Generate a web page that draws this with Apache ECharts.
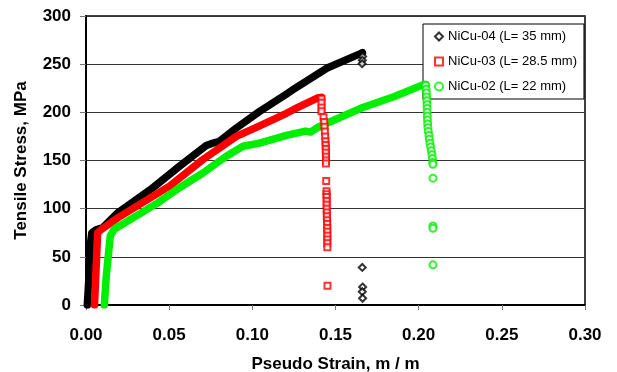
<!DOCTYPE html>
<html><head><meta charset="utf-8">
<script src="https://cdn.jsdelivr.net/npm/echarts@6/dist/echarts.min.js"></script>
<style>html,body{margin:0;padding:0;background:#fff}#c{width:617px;height:372px}</style>
</head><body><div id="c"></div>
<script>
const seriesNames = ['NiCu-04 (L= 35 mm)', 'NiCu-03 (L= 28.5 mm)', 'NiCu-02 (L= 22 mm)'];
const xTicks = [0, 0.05, 0.10, 0.15, 0.20, 0.25, 0.30];
const yTicks = [0, 50, 100, 150, 200, 250, 300];

// main curves [strain, stress]
const nicu04Curve = [[0.0008,0],[0.0018,30],[0.0028,65],[0.0035,75],[0.0060,78],[0.0099,80],[0.0193,96],[0.0402,121.7],[0.0562,144],[0.0723,165.5],[0.0753,167.5],[0.0803,170],[0.0904,183.8],[0.1044,201],[0.1205,219],[0.1249,224],[0.1450,246],[0.1650,261],[0.1662,262]];
const nicu03Curve = [[0.0051,0],[0.0060,35],[0.0070,75],[0.0094,78.6],[0.0193,90.7],[0.0502,123.4],[0.0703,151],[0.0904,175],[0.1044,186],[0.1205,199],[0.1249,203],[0.1390,214.8],[0.1415,215.5]];
const nicu02Curve = [[0.0110,0],[0.0122,30],[0.0146,72],[0.0170,78.6],[0.0431,106],[0.0562,121.7],[0.0703,137],[0.0843,154.5],[0.0944,164.8],[0.1044,168],[0.1205,176],[0.1320,180.5],[0.1350,179.5],[0.1400,185],[0.1664,205],[0.1854,216.5],[0.2032,229],[0.2043,229]];

// fracture points [strain, stress]
const nicu04Tail = [[0.1663,258],[0.1661,254],[0.1660,250.5],[0.1661,39],[0.1663,18.6],[0.1661,13.8],[0.1663,7]];
const nicu03Tail = [[0.1416,214],[0.1416,210],[0.1416,205],[0.1416,201],[0.1428,195],[0.1432,190],[0.1434,185],[0.1436,180],[0.1438,175],[0.1440,170],[0.1441,166],[0.1442,162],[0.1442,158],[0.1443,154],[0.1443,150],[0.1443,147],[0.1444,128.6],[0.1446,118],[0.1446,115],[0.1447,112],[0.1447,108],[0.1447,104],[0.1447,100],[0.1448,96],[0.1448,92],[0.1449,88],[0.1450,84],[0.1450,80],[0.1451,76],[0.1451,72],[0.1451,68],[0.1451,64],[0.1451,60],[0.1452,20]];
const nicu02Tail = [[0.2043,228],[0.2045,224],[0.2047,220],[0.2048,216],[0.2049,212],[0.2050,208],[0.2051,204],[0.2051,200],[0.2052,196],[0.2053,192],[0.2054,188],[0.2056,184],[0.2058,180],[0.2062,176],[0.2064,172],[0.2068,168],[0.2072,164],[0.2076,160],[0.2080,156],[0.2083,152],[0.2085,148],[0.2086,146],[0.2086,131.7],[0.2086,82],[0.2086,79.6],[0.2086,41.7]];

const colors = ['#000000', '#ff0000', '#00ee00'];
const symbols = ['emptyDiamond', 'emptyRect', 'emptyCircle'];
const curves = [nicu04Curve, nicu03Curve, nicu02Curve];
const tails = [nicu04Tail, nicu03Tail, nicu02Tail];
const FONT = 'Arial, "Liberation Sans", sans-serif';

const series = [];
for (let i = 0; i < 3; i++) {
  series.push({
    name: seriesNames[i] + ' curve', type: 'line', data: curves[i],
    showSymbol: false, symbol: 'none', smooth: false, z: 2 + i,
    lineStyle: { color: colors[i], width: 7.5, cap: 'round', join: 'round' },
    itemStyle: { color: colors[i] }, animation: false
  });
}
for (let i = 0; i < 3; i++) {
  series.push({
    name: seriesNames[i], type: 'scatter', data: tails[i],
    symbol: symbols[i], symbolSize: i === 1 ? 6 : 7, z: 6 + i,
    itemStyle: { color: colors[i], borderWidth: 1 }, animation: false
  });
}

const chart = echarts.init(document.getElementById('c'), null, { renderer: 'canvas' });
chart.setOption({
  animation: false,
  backgroundColor: '#fff',
  textStyle: { fontFamily: FONT },
  grid: { left: 86, right: 32, top: 16, bottom: 67, containLabel: false, outerBoundsMode: 'none', show: true, borderColor: '#000', borderWidth: 1.5, backgroundColor: 'transparent' },
  legend: {
    data: seriesNames, orient: 'vertical', left: 423, top: 24,
    itemWidth: 8, itemHeight: 8, itemGap: 12, padding: [6, 7, 6, 11],
    borderColor: '#000', borderWidth: 1, backgroundColor: '#fff',
    textStyle: { fontSize: 13, color: '#000', fontFamily: FONT }
  },
  xAxis: {
    type: 'value', min: xTicks[0], max: xTicks[xTicks.length - 1], interval: 0.05,
    name: 'Pseudo Strain, m / m', nameLocation: 'middle', nameGap: 51,
    nameTextStyle: { fontSize: 17, fontWeight: 'bold', color: '#000', fontFamily: FONT },
    axisLine: { show: true, onZero: false, lineStyle: { color: '#000', width: 2 } },
    axisTick: { show: true, inside: false, length: 5, lineStyle: { color: '#777' } },
    axisLabel: { fontSize: 17, fontWeight: 'bold', color: '#000', margin: 22, formatter: v => v.toFixed(2) },
    splitLine: { show: false }
  },
  yAxis: {
    type: 'value', min: yTicks[0], max: yTicks[yTicks.length - 1], interval: 50,
    name: 'Tensile Stress, MPa', nameLocation: 'middle', nameGap: 56,
    nameTextStyle: { fontSize: 17, fontWeight: 'bold', color: '#000', fontFamily: FONT },
    axisLine: { show: true, lineStyle: { color: '#000', width: 2 } },
    axisTick: { show: true, inside: false, length: 6, lineStyle: { color: '#777' } },
    axisLabel: { fontSize: 17, fontWeight: 'bold', color: '#000', margin: 15 },
    splitLine: { show: true, lineStyle: { color: '#333', width: 1 } }
  },
  series: series
});
</script></body></html>
